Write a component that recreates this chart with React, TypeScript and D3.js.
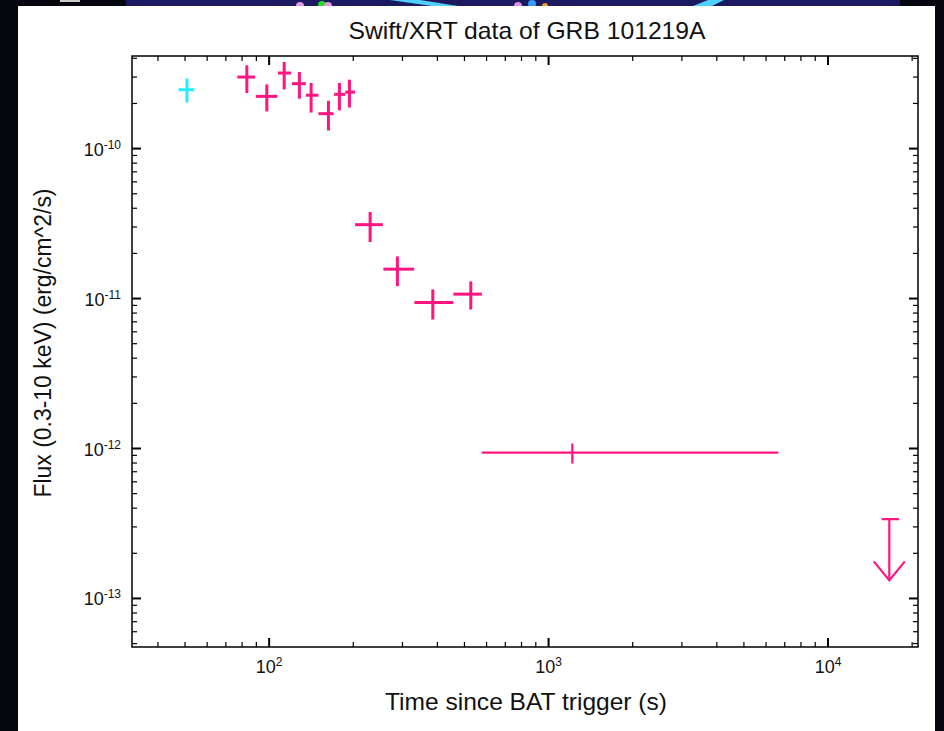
import React from "react";
import * as d3 from "d3";

// ---- data ----
// WT-mode point (cyan)
const cyanTime = [50.8];
const cyanTimeLo = [47.4];
const cyanTimeHi = [54.0];
const cyanFlux = [2.47e-10];
const cyanFluxLo = [2.03e-10];
const cyanFluxHi = [2.93e-10];

// PC-mode points (pink)
const pinkTime = [83.2, 98.1, 113.2, 128.3, 141.3, 163.0, 178.4, 193.8, 229.8, 287.7, 385.2, 526.7, 1216];
const pinkTimeLo = [77.0, 89.6, 107.4, 120.6, 135.3, 150.1, 170.8, 187.1, 203.1, 256.4, 331.1, 456.4, 576.8];
const pinkTimeHi = [89.1, 107.1, 119.9, 135.3, 150.1, 169.9, 187.1, 203.1, 255.2, 330.2, 456.4, 576.8, 6640];
const pinkFlux = [3.0e-10, 2.23e-10, 3.19e-10, 2.71e-10, 2.27e-10, 1.71e-10, 2.3e-10, 2.38e-10, 3.11e-11, 1.57e-11, 9.41e-12, 1.07e-11, 9.4e-13];
const pinkFluxLo = [2.35e-10, 1.77e-10, 2.48e-10, 2.15e-10, 1.74e-10, 1.32e-10, 1.8e-10, 1.88e-10, 2.38e-11, 1.21e-11, 7.24e-12, 8.45e-12, 7.94e-13];
const pinkFluxHi = [3.59e-10, 2.68e-10, 3.78e-10, 3.24e-10, 2.74e-10, 2.08e-10, 2.74e-10, 2.88e-10, 3.78e-11, 1.91e-11, 1.15e-11, 1.3e-11, 1.08e-12];

// upper limit
const limitTime = [16570];
const limitTimeLo = [15560];
const limitTimeHi = [17950];
const limitFlux = [3.38e-13];
const limitArrowTip = [1.32e-13];

// axes
const xDomain = [32.3, 20990];
const yDomain = [4.745e-14, 4.145e-10];
const xMajor = [100, 1000, 10000];
const xMajorExp = ["2", "3", "4"];
const yMajor = [1e-10, 1e-11, 1e-12, 1e-13];
const yMajorExp = ["-10", "-11", "-12", "-13"];

const title = "Swift/XRT data of GRB 101219A";
const xLabel = "Time since BAT trigger (s)";
const yLabel = "Flux (0.3-10 keV) (erg/cm^2/s)";

const PINK = "#ff1480";
const CYAN = "#22eeff";
const FONT = "'Liberation Sans', Arial, Helvetica, sans-serif";

export default function App() {
  const W = 944, H = 731;
  const left = 132, right = 918, top = 56, bottom = 647;
  const x = d3.scaleLog().domain(xDomain).range([left, right]);
  const y = d3.scaleLog().domain(yDomain).range([bottom, top]);

  const minorX: number[] = [];
  for (let e = 1; e <= 4; e++) for (let m = 2; m <= 9; m++) {
    const v = m * Math.pow(10, e);
    if (v > xDomain[0] && v < xDomain[1]) minorX.push(v);
  }
  const minorY: number[] = [];
  for (let e = -14; e <= -10; e++) for (let m = 2; m <= 9; m++) {
    const v = m * Math.pow(10, e);
    if (v > yDomain[0] && v < yDomain[1]) minorY.push(v);
  }
  const MAJ = 9, MIN = 5;

  const cross = (t: number, tl: number, th: number, f: number, fl: number, fh: number, color: string, sw: number, key: string) => (
    <g key={key} stroke={color} strokeWidth={sw} fill="none">
      <line x1={x(tl)} x2={x(th)} y1={y(f)} y2={y(f)} />
      <line x1={x(t)} x2={x(t)} y1={y(fl)} y2={y(fh)} />
    </g>
  );

  return (
    <div style={{ position: "fixed", left: 0, top: 0, width: W, height: H, background: "#06060f" }}>
      <svg width={W} height={H} style={{ display: "block" }}>
        <rect x={0} y={0} width={W} height={H} fill="#06060f" />
        {/* top strip (screenshot remnant) */}
        <rect x={126} y={0} width={774} height={6} fill="#1b1a60" />
        <rect x={60} y={0} width={20} height={2} fill="#cccccc" />
        <polygon points="390,0 420,0 458,6 432,6" fill="#4fd0ff" />
        <polygon points="693,6 712,6 724,0 708,0" fill="#4fd0ff" />
        <circle cx={300} cy={6} r={4} fill="#e59ae0" />
        <circle cx={322} cy={5} r={4} fill="#22dd22" />
        <circle cx={328} cy={6} r={4} fill="#e59ae0" />
        <circle cx={518} cy={6} r={4} fill="#d98ee0" />
        <circle cx={532} cy={4} r={4} fill="#3399ff" />
        <circle cx={545} cy={6} r={3} fill="#ee9922" />
        {/* white panel */}
        <rect x={18} y={6} width={917} height={H - 6} fill="#ffffff" />

        {/* title */}
        <text x={527} y={39} textAnchor="middle" fontFamily={FONT} fontSize={24} fill="#111" textLength={357} lengthAdjust="spacingAndGlyphs">{title}</text>

        {/* ticks */}
        <g stroke="#000" strokeWidth={1.2}>
          {xMajor.map((v) => (
            <g key={"xM" + v} strokeWidth={2}>
              <line x1={x(v)} x2={x(v)} y1={bottom} y2={bottom - MAJ} />
              <line x1={x(v)} x2={x(v)} y1={top} y2={top + MAJ} />
            </g>
          ))}
          {minorX.map((v) => (
            <g key={"xm" + v}>
              <line x1={x(v)} x2={x(v)} y1={bottom} y2={bottom - MIN} />
              <line x1={x(v)} x2={x(v)} y1={top} y2={top + MIN} />
            </g>
          ))}
          {yMajor.map((v) => (
            <g key={"yM" + v} strokeWidth={2}>
              <line x1={left} x2={left + MAJ} y1={y(v)} y2={y(v)} />
              <line x1={right} x2={right - MAJ} y1={y(v)} y2={y(v)} />
            </g>
          ))}
          {minorY.map((v) => (
            <g key={"ym" + v}>
              <line x1={left} x2={left + MIN} y1={y(v)} y2={y(v)} />
              <line x1={right} x2={right - MIN} y1={y(v)} y2={y(v)} />
            </g>
          ))}
        </g>

        {/* frame */}
        <rect x={left} y={top} width={right - left} height={bottom - top} fill="none" stroke="#000" strokeWidth={1.5} />

        {/* tick labels */}
        {xMajor.map((v, i) => (
          <text key={"xl" + v} x={x(v)} y={673} textAnchor="middle" fontFamily={FONT} fontSize={18} fill="#111">
            10<tspan dy={-7} fontSize={12}>{xMajorExp[i]}</tspan>
          </text>
        ))}
        {yMajor.map((v, i) => (
          <text key={"yl" + v} x={121} y={y(v) + 7} textAnchor="end" fontFamily={FONT} fontSize={18} fill="#111">
            10<tspan dy={-7} fontSize={12}>{yMajorExp[i]}</tspan>
          </text>
        ))}

        {/* axis labels */}
        <text x={526} y={710} textAnchor="middle" fontFamily={FONT} fontSize={24} fill="#111" textLength={282} lengthAdjust="spacingAndGlyphs">{xLabel}</text>
        <text transform={`translate(51, 343) rotate(-90)`} textAnchor="middle" fontFamily={FONT} fontSize={23} fill="#111" textLength={309} lengthAdjust="spacingAndGlyphs">{yLabel}</text>

        {/* data */}
        {cyanTime.map((t, i) => cross(t, cyanTimeLo[i], cyanTimeHi[i], cyanFlux[i], cyanFluxLo[i], cyanFluxHi[i], CYAN, 3, "c" + i))}
        {pinkTime.map((t, i) => cross(t, pinkTimeLo[i], pinkTimeHi[i], pinkFlux[i], pinkFluxLo[i], pinkFluxHi[i], PINK, i === pinkTime.length - 1 ? 2.2 : 3, "p" + i))}

        {/* upper limit */}
        {limitTime.map((t, i) => {
          const tipY = y(limitArrowTip[i]);
          const cx = x(t);
          return (
            <g key={"ul" + i} stroke={PINK} strokeWidth={2.2} fill="none">
              <line x1={x(limitTimeLo[i])} x2={x(limitTimeHi[i])} y1={y(limitFlux[i])} y2={y(limitFlux[i])} />
              <line x1={cx} x2={cx} y1={y(limitFlux[i])} y2={tipY} />
              <polyline points={`${cx - 15.5},${tipY - 19} ${cx},${tipY} ${cx + 15.5},${tipY - 19}`} />
            </g>
          );
        })}
      </svg>
    </div>
  );
}
